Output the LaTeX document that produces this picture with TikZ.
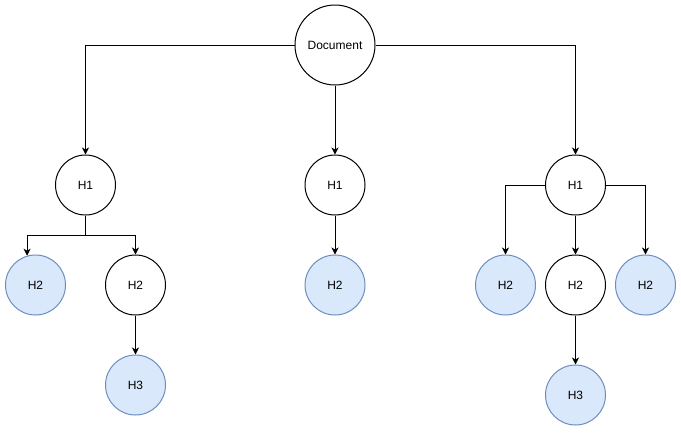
\documentclass[tikz,border=0pt]{standalone}
\usepackage{fontspec}
\setmainfont{Liberation Sans}
\usetikzlibrary{arrows.meta}
\definecolor{bfill}{HTML}{DAE8FC}
\definecolor{bline}{HTML}{6C8EBF}
\begin{document}
\begin{tikzpicture}[x=1pt,y=-1pt,
  nd/.style={circle,draw=black,line width=1pt,fill=white,minimum size=60pt,inner sep=0pt,font=\fontsize{12}{14}\selectfont},
  bl/.style={nd,draw=bline,fill=bfill},
  arr/.style={line width=1pt,-{Stealth[length=7pt,width=7pt,inset=2pt]}}]
\useasboundingbox (0,0) rectangle (681,432);
\node[nd,minimum size=80pt] (doc) at (335,45) {Document};
\node[nd] (h1a) at (85.5,185) {H1};
\node[nd] (h1b) at (335,185) {H1};
\node[nd] (h1c) at (575.5,185) {H1};
\node[bl] (h2a) at (35.5,285) {H2};
\node[nd] (h2b) at (135.5,285) {H2};
\node[bl] (h2c) at (335,285) {H2};
\node[bl] (h2d) at (505.5,285) {H2};
\node[nd] (h2e) at (575.5,285) {H2};
\node[bl] (h2f) at (645.5,285) {H2};
\node[bl] (h3a) at (135.5,385) {H3};
\node[bl] (h3b) at (575.5,395) {H3};
\coordinate (j1) at (85.5,235);
\draw[arr] (doc.west) -| (h1a.north);
\draw[arr] (doc.south) -- (h1b.north);
\draw[arr] (doc.east) -| (h1c.north);
\draw[arr] (h1a.south) -- (j1) -| (h2a.106);
\draw[arr] (j1) -| (h2b.north);
\draw[arr] (h2b.south) -- (h3a.north);
\draw[arr] (h1b.south) -- (h2c.north);
\draw[arr] (h1c.west) -| (h2d.north);
\draw[arr] (h1c.south) -- (h2e.north);
\draw[arr] (h1c.east) -| (h2f.north);
\draw[arr] (h2e.south) -- (h3b.north);
\end{tikzpicture}
\end{document}
